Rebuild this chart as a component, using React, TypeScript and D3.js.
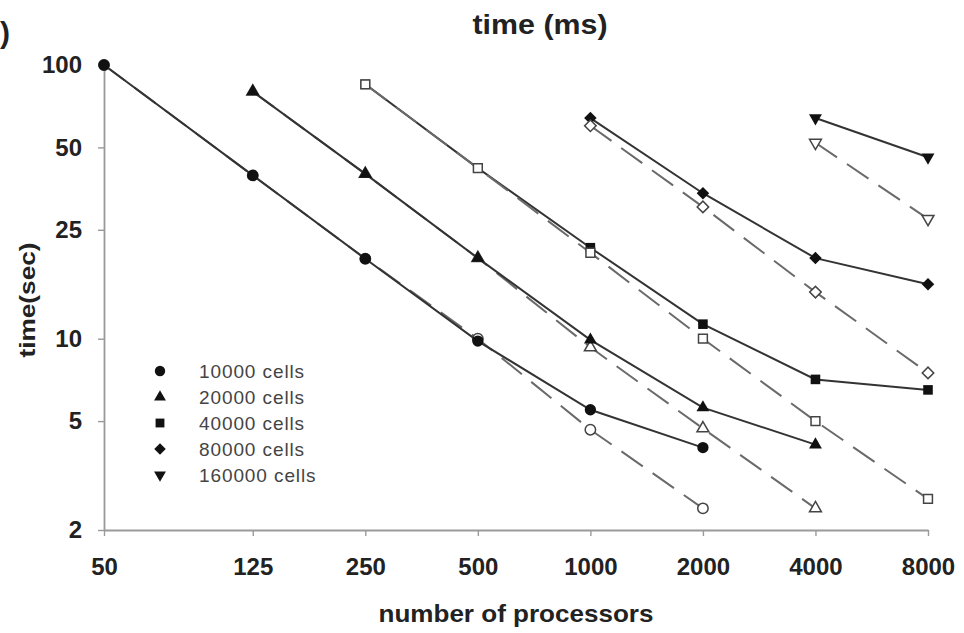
import React, { useEffect, useRef } from "react";
import * as d3 from "d3";

const processors = [50, 125, 250, 500, 1000, 2000, 4000, 8000];
const xTickLabels = ["50", "125", "250", "500", "1000", "2000", "4000", "8000"];
const yTicks = [2, 5, 10, 25, 50, 100];
const seriesNames = ["10000 cells", "20000 cells", "40000 cells", "80000 cells", "160000 cells"];

const cells10000Actual = [100, 39.5, 19.6, 9.8, 5.5, 4.0, null, null];
const cells10000Ideal = [100, 39.5, 19.6, 10, 4.65, 2.4, null, null];
const cells20000Actual = [null, 80, 40, 19.7, 9.9, 5.6, 4.1, null];
const cells20000Ideal = [null, 80, 40, 19.7, 9.3, 4.7, 2.4, null];
const cells40000Actual = [null, null, 85, 42, 21.5, 11.3, 7.1, 6.5];
const cells40000Ideal = [null, null, 85, 42, 20.6, 10, 5.0, 2.6];
const cells80000Actual = [null, null, null, null, 64, 34, 19.7, 15.8];
const cells80000Ideal = [null, null, null, null, 60, 30.3, 14.8, 7.5];
const cells160000Actual = [null, null, null, null, null, null, 64, 46];
const cells160000Ideal = [null, null, null, null, null, null, 52, 27.4];

const actualSeries = [cells10000Actual, cells20000Actual, cells40000Actual, cells80000Actual, cells160000Actual];
const idealSeries = [cells10000Ideal, cells20000Ideal, cells40000Ideal, cells80000Ideal, cells160000Ideal];

// drawing styles
const idealAbove = [false, false, true, true, false];
const symbolTypes = [d3.symbolCircle, d3.symbolTriangle, d3.symbolSquare, d3.symbolSquare, d3.symbolTriangle];
const symbolSizes = [100, 72, 92, 78, 72];
const symbolRot = [0, 0, 0, 45, 180];

const W = 964, H = 633;
const FONT = "'Liberation Sans', Arial, Helvetica, sans-serif";

export default function App() {
  const ref = useRef<SVGSVGElement>(null);
  useEffect(() => {
    const svg = d3.select(ref.current);
    svg.selectAll("*").remove();
    const x = d3.scaleLog().domain([50, 8000]).range([104, 928]);
    const y = d3.scaleLog().domain([2, 100]).range([530, 65]);

    const axisColor = "#9a9a9a";
    // y axis
    const gy = svg.append("g").attr("transform", `translate(${x(50)},0)`)
      .call(d3.axisLeft(y).tickValues(yTicks).tickFormat((d: any) => String(d)).tickSize(6).tickSizeOuter(0).tickPadding(16));
    gy.select(".domain").attr("stroke", axisColor).attr("stroke-width", 1.8);
    gy.selectAll(".tick line").attr("stroke", axisColor).attr("stroke-width", 1.4);
    gy.selectAll(".tick text").attr("font-family", FONT).attr("font-size", 24).attr("font-weight", "bold").attr("fill", "#222");

    // x axis
    const gx = svg.append("g").attr("transform", `translate(0,${y(2)})`)
      .call(d3.axisBottom(x).tickValues(processors).tickFormat((d: any, i: number) => xTickLabels[i]).tickSize(6).tickSizeOuter(0).tickPadding(22));
    gx.select(".domain").attr("stroke", axisColor).attr("stroke-width", 1.8);
    gx.selectAll(".tick line").attr("stroke", axisColor).attr("stroke-width", 1.4);
    gx.selectAll(".tick text").attr("font-family", FONT).attr("font-size", 24).attr("font-weight", "bold").attr("fill", "#222");

    const sym = (i: number, scale = 1) => d3.symbol().type(symbolTypes[i]).size(symbolSizes[i] * scale)();
    const pts = (arr: (number | null)[]) => processors.map((p, k) => [p, arr[k]] as [number, number | null]).filter(d => d[1] != null) as [number, number][];
    const line = d3.line<[number, number]>().x(d => x(d[0])).y(d => y(d[1]));

    const drawIdeal = (i: number) => {
      const data = pts(idealSeries[i]);
      svg.append("path").attr("d", line(data)).attr("fill", "none").attr("stroke", "#6a6a6a")
        .attr("stroke-width", 2).attr("stroke-dasharray", "26 12");
      svg.append("g").selectAll("path").data(data).join("path")
        .attr("d", sym(i, 0.85))
        .attr("transform", d => `translate(${x(d[0])},${y(d[1])}) rotate(${symbolRot[i]})`)
        .attr("fill", "#fff").attr("stroke", "#444").attr("stroke-width", 1.5);
    };
    const drawActual = (i: number) => {
      const data = pts(actualSeries[i]);
      svg.append("path").attr("d", line(data)).attr("fill", "none").attr("stroke", "#333").attr("stroke-width", 2);
      svg.append("g").selectAll("path").data(data).join("path")
        .attr("d", sym(i))
        .attr("transform", d => `translate(${x(d[0])},${y(d[1])}) rotate(${symbolRot[i]})`)
        .attr("fill", "#111");
    };
    seriesNames.forEach((_, i) => { if (!idealAbove[i]) drawIdeal(i); });
    seriesNames.forEach((_, i) => drawActual(i));
    seriesNames.forEach((_, i) => { if (idealAbove[i]) drawIdeal(i); });

    // legend
    const lg = svg.append("g");
    seriesNames.forEach((name, i) => {
      const yy = 371 + i * 26;
      lg.append("path").attr("d", sym(i, 0.85)).attr("transform", `translate(160,${yy}) rotate(${symbolRot[i]})`).attr("fill", "#111");
      lg.append("text").attr("x", 199).attr("y", yy).attr("dy", "0.36em").attr("font-family", FONT)
        .attr("font-size", 19).attr("letter-spacing", 0.9).attr("fill", "#444").text(name);
    });

    // titles
    svg.append("text").attr("x", 540).attr("y", 34).attr("text-anchor", "middle").attr("font-family", FONT)
      .attr("font-size", 27).attr("font-weight", "bold").attr("fill", "#222").attr("textLength", 135)
      .attr("lengthAdjust", "spacingAndGlyphs").text("time (ms)");
    svg.append("text").attr("x", 516).attr("y", 622).attr("text-anchor", "middle").attr("font-family", FONT)
      .attr("font-size", 24).attr("font-weight", "bold").attr("fill", "#222").attr("textLength", 275)
      .attr("lengthAdjust", "spacingAndGlyphs").text("number of processors");
    svg.append("text").attr("transform", "translate(35,300) rotate(-90)").attr("text-anchor", "middle").attr("font-family", FONT)
      .attr("font-size", 22).attr("font-weight", "bold").attr("fill", "#222").attr("textLength", 115)
      .attr("lengthAdjust", "spacingAndGlyphs").text("time(sec)");
    svg.append("text").attr("x", 0).attr("y", 43).attr("font-family", FONT)
      .attr("font-size", 30).attr("font-weight", "bold").attr("fill", "#222").text(")");
  }, []);
  return (
    <svg ref={ref} width={W} height={H} style={{ position: "absolute", left: 0, top: 0, background: "#fff" }} />
  );
}
